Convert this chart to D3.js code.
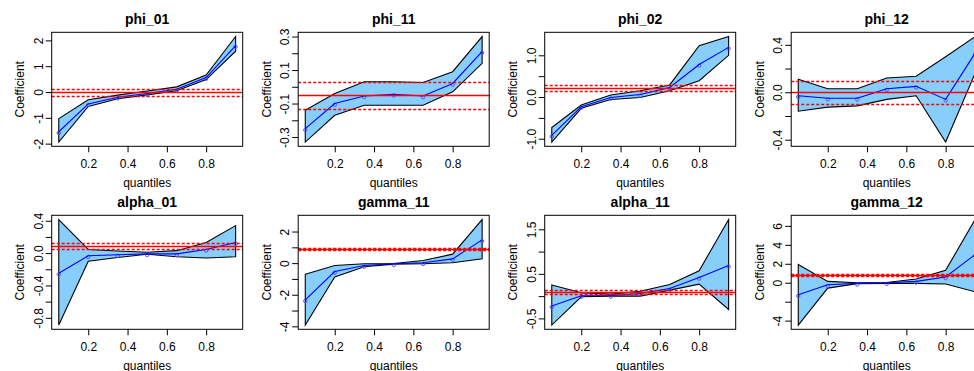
<!DOCTYPE html>
<html><head><meta charset="utf-8">
<script src="https://cdn.jsdelivr.net/npm/d3@7"></script>
<style>
body{margin:0;background:#fff}
svg{display:block}
text{font-family:"Liberation Sans",Arial,Helvetica,sans-serif}
</style>
</head><body>
<svg id="c" width="974" height="371"></svg>
<script>
// ---------- data ----------
const taus = [0.05, 0.2, 0.35, 0.5, 0.65, 0.8, 0.95];
const xTicks = [0.2, 0.4, 0.6, 0.8];
const xTickLabels = ["0.2", "0.4", "0.6", "0.8"];
const panelTitles = ["phi_01", "phi_11", "phi_02", "phi_12", "alpha_01", "gamma_11", "alpha_11", "gamma_12"];

const phi01Est = [-1.54, -0.46, -0.20, -0.06, 0.11, 0.56, 1.80];
const phi01Lo  = [-1.94, -0.56, -0.26, -0.11, 0.05, 0.48, 1.58];
const phi01Hi  = [-1.03, -0.30, -0.12, 0.04, 0.20, 0.66, 2.15];

const phi11Est = [-0.25, -0.10, -0.055, -0.045, -0.055, 0.02, 0.21];
const phi11Lo  = [-0.33, -0.17, -0.11, -0.11, -0.11, -0.03, 0.14];
const phi11Hi  = [-0.14, -0.04, 0.03, 0.03, 0.026, 0.09, 0.30];

const phi02Est = [-0.92, -0.23, -0.01, 0.06, 0.23, 0.78, 1.19];
const phi02Lo  = [-1.08, -0.27, -0.06, -0.01, 0.15, 0.39, 1.00];
const phi02Hi  = [-0.73, -0.19, 0.05, 0.15, 0.29, 1.23, 1.45];

const phi12Est = [-0.03, -0.05, -0.05, 0.03, 0.05, -0.06, 0.33];
const phi12Lo  = [-0.16, -0.125, -0.115, -0.06, -0.03, -0.42, 0.16];
const phi12Hi  = [0.11, 0.03, 0.03, 0.12, 0.135, 0.30, 0.47];

const alpha01Est = [-0.25, -0.033, -0.02, -0.01, -0.01, 0.045, 0.13];
const alpha01Lo  = [-0.89, -0.10, -0.055, -0.015, -0.045, -0.06, -0.045];
const alpha01Hi  = [0.415, 0.045, 0.025, 0.01, 0.03, 0.13, 0.34];

const gamma11Est = [-2.32, -0.53, -0.15, -0.04, 0.02, 0.27, 1.47];
const gamma11Lo  = [-3.92, -0.88, -0.23, -0.06, -0.04, 0.02, 0.27];
const gamma11Hi  = [-0.70, -0.15, -0.04, -0.02, 0.17, 0.57, 2.76];

const alpha11Est = [-0.22, 0.01, 0.015, 0.06, 0.17, 0.42, 0.69];
const alpha11Lo  = [-0.65, -0.015, 0.0, 0.0, 0.135, 0.27, -0.30];
const alpha11Hi  = [0.25, 0.075, 0.045, 0.11, 0.26, 0.57, 1.72];

const gamma12Est = [-1.28, -0.21, -0.07, 0.0, 0.14, 0.60, 2.98];
const gamma12Lo  = [-4.47, -0.57, -0.10, -0.07, -0.07, -0.14, -0.96];
const gamma12Hi  = [1.92, 0.14, 0.0, 0.03, 0.39, 1.31, 6.67];

// OLS estimate and its confidence bounds (red lines), one per panel
const olsEst = [-0.005, -0.052, 0.21, 0.0, 0.085, 0.88, 0.085, 0.85];
const olsLo  = [-0.14, -0.135, 0.14, -0.095, 0.047, 0.82, 0.045, 0.75];
const olsHi  = [0.13, 0.03, 0.28, 0.095, 0.125, 0.94, 0.13, 0.95];

// y ticks and their labels ("" = tick without label)
const yTicksPhi01 = [-2, -1, 0, 1, 2];            const yLabPhi01 = ["-2", "-1", "0", "1", "2"];
const yTicksPhi11 = [-0.3, -0.2, -0.1, 0, 0.1, 0.2, 0.3]; const yLabPhi11 = ["-0.3", "", "-0.1", "", "0.1", "", "0.3"];
const yTicksPhi02 = [-1, -0.5, 0, 0.5, 1];        const yLabPhi02 = ["-1.0", "", "0.0", "", "1.0"];
const yTicksPhi12 = [-0.4, -0.2, 0, 0.2, 0.4];    const yLabPhi12 = ["-0.4", "", "0.0", "", "0.4"];
const yTicksAlpha01 = [-0.8, -0.6, -0.4, -0.2, 0, 0.2, 0.4]; const yLabAlpha01 = ["-0.8", "", "-0.4", "", "0.0", "", "0.4"];
const yTicksGamma11 = [-4, -3, -2, -1, 0, 1, 2];  const yLabGamma11 = ["-4", "", "-2", "", "0", "", "2"];
const yTicksAlpha11 = [-0.5, 0, 0.5, 1, 1.5];     const yLabAlpha11 = ["-0.5", "", "0.5", "", "1.5"];
const yTicksGamma12 = [-4, -2, 0, 2, 4, 6];       const yLabGamma12 = ["-4", "", "0", "2", "4", "6"];

// table built from the arrays above
const panels = [
  {est: phi01Est, lo: phi01Lo, hi: phi01Hi, yt: yTicksPhi01, yl: yLabPhi01},
  {est: phi11Est, lo: phi11Lo, hi: phi11Hi, yt: yTicksPhi11, yl: yLabPhi11},
  {est: phi02Est, lo: phi02Lo, hi: phi02Hi, yt: yTicksPhi02, yl: yLabPhi02},
  {est: phi12Est, lo: phi12Lo, hi: phi12Hi, yt: yTicksPhi12, yl: yLabPhi12},
  {est: alpha01Est, lo: alpha01Lo, hi: alpha01Hi, yt: yTicksAlpha01, yl: yLabAlpha01},
  {est: gamma11Est, lo: gamma11Lo, hi: gamma11Hi, yt: yTicksGamma11, yl: yLabGamma11},
  {est: alpha11Est, lo: alpha11Lo, hi: alpha11Hi, yt: yTicksAlpha11, yl: yLabAlpha11},
  {est: gamma12Est, lo: gamma12Lo, hi: gamma12Hi, yt: yTicksGamma12, yl: yLabGamma12}
];

// ---------- layout ----------
const colLeft0 = 51.7, colPitch = 246.5, boxW = 191, boxH = 114;
const rowTops = [32.3, 215.3];
const FONT = 12;

const svg = d3.select("#c");

function expand(ext) {
  const r = ext[1] - ext[0];
  return [ext[0] - 0.04 * r, ext[1] + 0.04 * r];
}
const crisp = v => Math.round(v) + 0.5;

panels.forEach((p, i) => {
  const col = i % 4, row = Math.floor(i / 4);
  const L = colLeft0 + col * colPitch, T = rowTops[row];
  const x = d3.scaleLinear().domain(expand(d3.extent(taus))).range([L, L + boxW]);
  const y = d3.scaleLinear().domain(expand([d3.min(p.lo), d3.max(p.hi)])).range([T + boxH, T]);

  const clipId = "clip" + i;
  svg.append("clipPath").attr("id", clipId)
    .append("rect").attr("x", L).attr("y", T).attr("width", boxW).attr("height", boxH);
  const g = svg.append("g").attr("clip-path", `url(#${clipId})`);

  // confidence band polygon
  const poly = taus.map((t, j) => [x(t), y(p.hi[j])])
    .concat(taus.map((t, j) => [x(t), y(p.lo[j])]).reverse());
  g.append("path")
    .attr("d", "M" + poly.map(q => q.join(",")).join("L") + "Z")
    .attr("fill", "#87CEFA").attr("stroke", "#000").attr("stroke-width", 1.1)
    .attr("stroke-linejoin", "miter");

  // points
  g.selectAll("circle.pt").data(taus).enter().append("circle")
    .attr("cx", t => x(t)).attr("cy", (t, j) => y(p.est[j]) + 1.2)
    .attr("r", 1.7).attr("fill", "none").attr("stroke", "#5555ff").attr("stroke-width", 1);

  // estimate line
  g.append("path")
    .datum(taus.map((t, j) => [t, p.est[j]]))
    .attr("d", d3.line().x(d => x(d[0])).y(d => y(d[1])))
    .attr("fill", "none").attr("stroke", "#0000ff").attr("stroke-width", 1.1);

  // OLS lines
  g.append("line").attr("x1", L).attr("x2", L + boxW)
    .attr("y1", crisp(y(olsEst[i]))).attr("y2", crisp(y(olsEst[i])))
    .attr("stroke", "#ff0000").attr("stroke-width", 1.3);
  [olsLo[i], olsHi[i]].forEach(v => {
    g.append("line").attr("x1", L).attr("x2", L + boxW)
      .attr("y1", crisp(y(v))).attr("y2", crisp(y(v)))
      .attr("stroke", "#ff0000").attr("stroke-width", 1.3)
      .attr("stroke-dasharray", "3,2");
  });

  // box
  svg.append("rect").attr("x", L).attr("y", T).attr("width", boxW).attr("height", boxH)
    .attr("fill", "none").attr("stroke", "#000").attr("stroke-width", 1);

  // x axis
  const xa = svg.append("g").attr("transform", `translate(0,${T + boxH})`)
    .call(d3.axisBottom(x).tickValues(xTicks).tickFormat((d, j) => xTickLabels[j])
      .tickSize(6).tickSizeOuter(0).tickPadding(0));
  xa.select(".domain").remove();
  xa.selectAll("line").attr("stroke", "#000");
  xa.selectAll("text").attr("font-size", FONT).attr("fill", "#000")
    .attr("y", 21.5).attr("dy", null).attr("font-family", "Liberation Sans, Arial, sans-serif");
  xa.attr("font-family", null).attr("font-size", null);

  // y axis
  const ya = svg.append("g").attr("transform", `translate(${L},0)`)
    .call(d3.axisLeft(y).tickValues(p.yt).tickFormat((d, j) => p.yl[j])
      .tickSize(6).tickSizeOuter(0));
  ya.select(".domain").remove();
  ya.selectAll("line").attr("stroke", "#000");
  ya.selectAll("text").attr("font-size", FONT).attr("fill", "#000")
    .attr("x", null).attr("dy", null).attr("text-anchor", "middle")
    .attr("transform", "translate(-9,0) rotate(-90)")
    .attr("font-family", "Liberation Sans, Arial, sans-serif");
  ya.attr("font-family", null).attr("font-size", null);

  // titles and axis labels
  svg.append("text").attr("x", L + boxW / 2).attr("y", T - 8)
    .attr("text-anchor", "middle").attr("font-weight", "bold").attr("font-size", 14)
    .text(panelTitles[i]);
  svg.append("text").attr("x", L + boxW / 2).attr("y", T + boxH + 41)
    .attr("text-anchor", "middle").attr("font-size", FONT).text("quantiles");
  svg.append("text")
    .attr("transform", `translate(${L - 27.5},${T + boxH / 2}) rotate(-90)`)
    .attr("text-anchor", "middle").attr("font-size", FONT).text("Coefficient");
});
</script>
</body></html>
